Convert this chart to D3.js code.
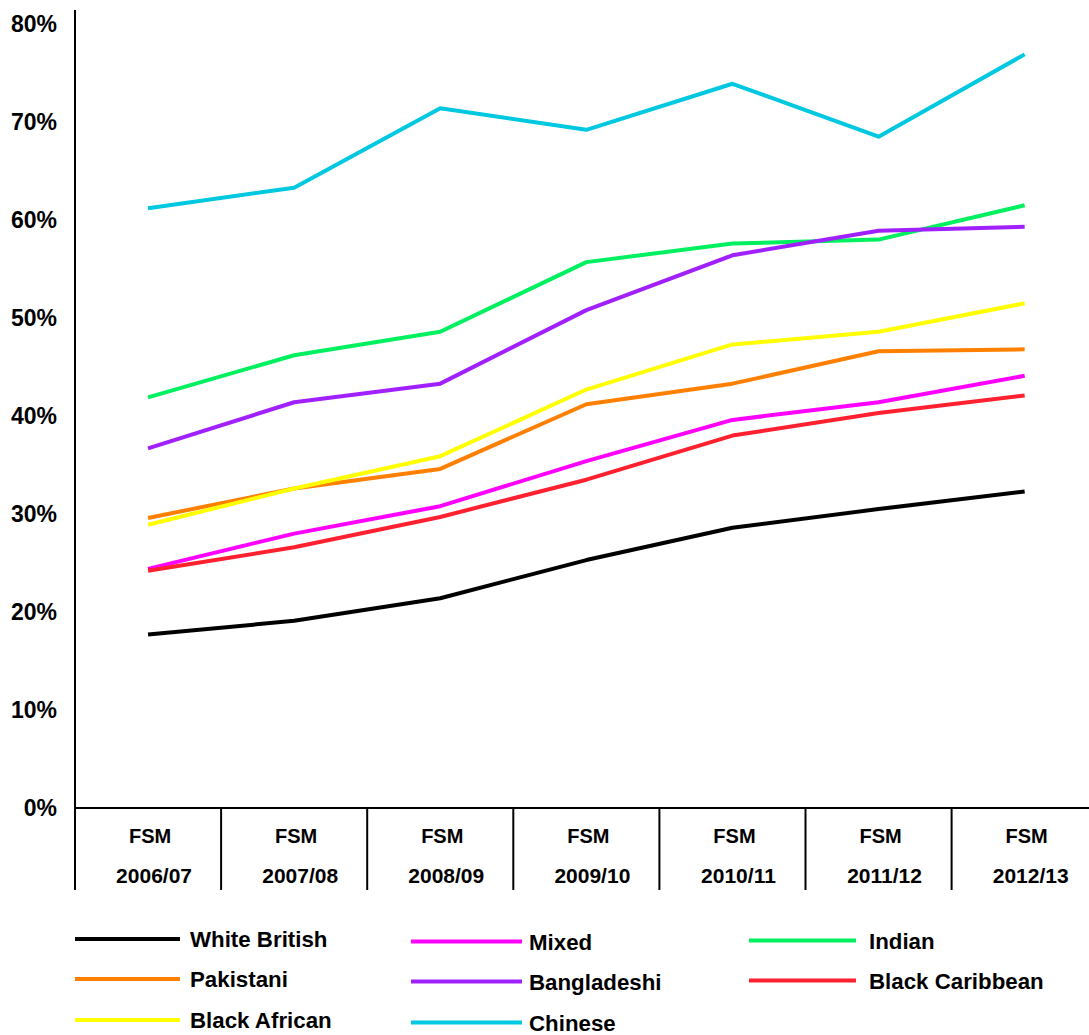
<!DOCTYPE html>
<html>
<head>
<meta charset="utf-8">
<script src="https://cdn.jsdelivr.net/npm/d3@7"></script>
<style>
  html, body { margin: 0; padding: 0; background: #fff; }
  svg { display: block; font-family: "Liberation Sans", Arial, Helvetica, sans-serif; }
</style>
</head>
<body>
<svg id="chart" width="1089" height="1035"></svg>
<script>
// School years (x categories)
const years = ["2006/07", "2007/08", "2008/09", "2009/10", "2010/11", "2011/12", "2012/13"];
const yearPrefix = "FSM";

// Y axis ticks (percent)
const yTicks = [0, 10, 20, 30, 40, 50, 60, 70, 80];

// Series names, in legend order (row by row, three per row)
const seriesNames = ["White British", "Mixed", "Indian", "Pakistani", "Bangladeshi", "Black Caribbean", "Black African", "Chinese"];
const seriesColors = ["#000000", "#ff00ff", "#00f060", "#ff8000", "#a020ff", "#ff2030", "#ffff00", "#00c8e0"];

// Values per series (percent), one per school year
const whiteBritish   = [17.7, 19.1, 21.4, 25.3, 28.6, 30.5, 32.3];
const mixed          = [24.4, 28.0, 30.8, 35.4, 39.6, 41.4, 44.1];
const indian         = [41.9, 46.2, 48.6, 55.7, 57.6, 58.0, 61.5];
const pakistani      = [29.6, 32.6, 34.6, 41.2, 43.3, 46.6, 46.8];
const bangladeshi    = [36.7, 41.4, 43.3, 50.8, 56.4, 58.9, 59.3];
const blackCaribbean = [24.2, 26.6, 29.7, 33.5, 38.0, 40.3, 42.1];
const blackAfrican   = [28.9, 32.6, 35.9, 42.7, 47.3, 48.6, 51.5];
const chinese        = [61.2, 63.3, 71.4, 69.2, 73.9, 68.5, 76.9];

const seriesValues = [whiteBritish, mixed, indian, pakistani, bangladeshi, blackCaribbean, blackAfrican, chinese];

// Paint order of the lines (later ones sit on top)
const drawOrder = ["Indian", "Chinese", "Bangladeshi", "Pakistani", "Black African", "Mixed", "Black Caribbean", "White British"];

const series = seriesNames.map((name, i) => ({ name, color: seriesColors[i], values: seriesValues[i] }));

const svg = d3.select("#chart");
const plotLeft = 75, plotTop = 24, plotBottom = 808, bandW = 146.1;

const x = d3.scaleBand().domain(years).range([plotLeft, plotLeft + bandW * years.length]).padding(0);
const y = d3.scaleLinear().domain([0, 80]).range([plotBottom, plotTop]);

// Y axis: vertical rule (runs down through the category area) and labels
svg.append("line")
  .attr("x1", plotLeft).attr("x2", plotLeft).attr("y1", 10).attr("y2", 890)
  .attr("stroke", "#000").attr("stroke-width", 2);

const yAxis = d3.axisLeft(y).tickValues(yTicks).tickSize(0).tickPadding(18).tickFormat(d => d + "%");
const gy = svg.append("g").attr("transform", `translate(${plotLeft},0)`).call(yAxis);
gy.select(".domain").remove();
gy.selectAll("text")
  .attr("font-size", 23).attr("font-weight", "bold").attr("fill", "#000")
  .attr("font-family", "Liberation Sans, Arial, sans-serif");

// X axis: baseline, category separators, two-line labels
svg.append("line")
  .attr("x1", plotLeft).attr("x2", 1089).attr("y1", plotBottom).attr("y2", plotBottom)
  .attr("stroke", "#000").attr("stroke-width", 2);

svg.append("g").selectAll("line")
  .data(years.slice(1))
  .join("line")
  .attr("x1", d => x(d)).attr("x2", d => x(d))
  .attr("y1", plotBottom).attr("y2", 890)
  .attr("stroke", "#000").attr("stroke-width", 2);

const xl = svg.append("g").selectAll("g")
  .data(years)
  .join("g")
  .attr("transform", d => `translate(${x(d) + x.bandwidth() / 2},0)`);
xl.append("text")
  .attr("x", 2).attr("y", 843).attr("text-anchor", "middle")
  .attr("font-size", 20).attr("font-weight", "bold")
  .text(yearPrefix);
xl.append("text")
  .attr("x", 6).attr("y", 883).attr("text-anchor", "middle")
  .attr("font-size", 21).attr("font-weight", "bold")
  .text(d => d);

// Lines
const line = d3.line()
  .x((d, i) => x(years[i]) + x.bandwidth() / 2)
  .y(d => y(d));

svg.append("g").selectAll("path")
  .data(drawOrder.map(n => series.find(s => s.name === n)))
  .join("path")
  .attr("fill", "none")
  .attr("stroke", d => d.color)
  .attr("stroke-width", 4)
  .attr("stroke-linejoin", "round")
  .attr("d", d => line(d.values));

// Legend, three columns: swatch start/end, label start, row offset
const legendCols = [
  { x0: 75,  x1: 180, tx: 190, dy: -1 },
  { x0: 411, x1: 522, tx: 529, dy: 1.5 },
  { x0: 749, x1: 856, tx: 869, dy: 0.5 }
];
const rowY = [940, 980, 1021];
const leg = svg.append("g").selectAll("g")
  .data(series)
  .join("g")
  .attr("transform", (d, i) => `translate(0,${rowY[Math.floor(i / 3)] + legendCols[i % 3].dy})`);
leg.append("line")
  .attr("x1", (d, i) => legendCols[i % 3].x0).attr("x2", (d, i) => legendCols[i % 3].x1)
  .attr("y1", 0).attr("y2", 0)
  .attr("stroke", d => d.color).attr("stroke-width", 4);
leg.append("text")
  .attr("transform", (d, i) => `translate(${legendCols[i % 3].tx},0) scale(0.97,1)`)
  .attr("dy", "0.35em")
  .attr("font-size", 23).attr("font-weight", "bold")
  .text(d => d.name);
</script>
</body>
</html>
